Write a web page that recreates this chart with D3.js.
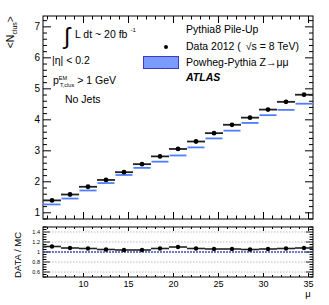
<!DOCTYPE html>
<html>
<head>
<meta charset="utf-8">
<script src="https://cdn.jsdelivr.net/npm/d3@7"></script>
<style>
  body { margin: 0; background: #fff; }
  svg text { font-family: "Liberation Sans", Arial, sans-serif; fill: #000; }
</style>
</head>
<body>
<div id="chart"></div>
<script>
// bin edges in mu (width 2)
const binLow = [5.5, 7.5, 9.5, 11.5, 13.5, 15.5, 17.5, 19.5, 21.5, 23.5, 25.5, 27.5, 29.5, 31.5, 33.5];
const dataVals = [1.40, 1.59, 1.84, 2.06, 2.31, 2.57, 2.82, 3.06, 3.30, 3.57, 3.84, 4.07, 4.33, 4.58, 4.81];
const mcVals = [1.27, 1.46, 1.72, 1.96, 2.22, 2.45, 2.65, 2.85, 3.11, 3.40, 3.65, 3.90, 4.15, 4.32, 4.52];
const ratioVals = [1.11, 1.08, 1.07, 1.05, 1.04, 1.04, 1.07, 1.10, 1.07, 1.06, 1.06, 1.05, 1.06, 1.07, 1.08];
const xTicks = [10, 15, 20, 25, 30, 35];
const yTicks = [1, 2, 3, 4, 5, 6, 7];
const rTicks = [0.6, 0.8, 1, 1.2, 1.4];

const W = 329, H = 305;
const svg = d3.select("#chart").append("svg").attr("width", W).attr("height", H);

const x = d3.scaleLinear().domain([5.5, 35.5]).range([43, 313]);
const y = d3.scaleLinear().domain([0.8, 7.35]).range([219, 16]);
const yr = d3.scaleLinear().domain([0.5, 1.5]).range([277, 227]);

const blue = "#4f7fff";
const fs = 10.5;

// frames
function frame(top, bottom) {
  svg.append("rect").attr("x", 43).attr("y", top).attr("width", 270).attr("height", bottom - top)
    .attr("fill", "none").attr("stroke", "#000").attr("stroke-width", 1);
}
frame(16, 219);
frame(227, 277);

const xMinor = d3.range(6, 36, 1);
const yMinor = d3.range(0.8, 7.35, 0.2).map(v => +v.toFixed(1));
const rMinor = d3.range(0.5, 1.501, 0.05).map(v => +v.toFixed(2));

const tickG = svg.append("g").attr("stroke", "#000").attr("stroke-width", 1);
function tk(x1, y1, x2, y2) { tickG.append("line").attr("x1", x1).attr("y1", y1).attr("x2", x2).attr("y2", y2); }

xMinor.forEach(v => {
  const big = v % 5 === 0;
  const l = big ? 7 : 3.5;
  tk(x(v), 219, x(v), 219 - l);
  tk(x(v), 16, x(v), 16 + l);
  tk(x(v), 277, x(v), 277 - (big ? 4 : 2));
  tk(x(v), 227, x(v), 227 + (big ? 4 : 2));
});
yMinor.forEach(v => {
  const big = Math.abs(v - Math.round(v)) < 1e-6;
  const l = big ? 8 : 4;
  tk(43, y(v), 43 + l, y(v));
  tk(313, y(v), 313 - l, y(v));
});
rMinor.forEach(v => {
  const big = Math.abs(v * 5 - Math.round(v * 5)) < 1e-6;
  const l = big ? 7 : 3.5;
  tk(43, yr(v), 43 + l, yr(v));
  tk(313, yr(v), 313 - l, yr(v));
});

// tick labels
svg.append("g").selectAll("text").data(yTicks).join("text")
  .attr("x", 40).attr("y", d => y(d) + 3.5).attr("text-anchor", "end")
  .attr("font-size", 10).text(d => d);
svg.append("g").selectAll("text").data(xTicks).join("text")
  .attr("x", d => x(d)).attr("y", 287).attr("text-anchor", "middle")
  .attr("font-size", 9).text(d => d);
svg.append("g").selectAll("text").data(rTicks).join("text")
  .attr("x", 40).attr("y", d => yr(d) + 2).attr("text-anchor", "end")
  .attr("font-size", 5.5).text(d => d === 1 ? "1" : d.toFixed(1));

// ratio grid lines
svg.append("g").selectAll("line").data([0.6, 0.8, 1.2, 1.4]).join("line")
  .attr("x1", 43).attr("x2", 313).attr("y1", d => yr(d)).attr("y2", d => yr(d))
  .attr("stroke", "#aaa").attr("stroke-width", 0.8).attr("stroke-dasharray", "1.5,1.5");
svg.append("line").attr("x1", 43).attr("x2", 313).attr("y1", yr(1)).attr("y2", yr(1))
  .attr("stroke", "#3a4fb0").attr("stroke-width", 1.6).attr("stroke-dasharray", "2,1");

// MC lines
svg.append("g").selectAll("line").data(mcVals).join("line")
  .attr("x1", (d, i) => x(binLow[i]) + 0.5).attr("x2", (d, i) => x(binLow[i] + 2) - 0.5)
  .attr("y1", d => y(d)).attr("y2", d => y(d))
  .attr("stroke", blue).attr("stroke-width", 1.8);

// data bars + points
svg.append("g").selectAll("line").data(dataVals).join("line")
  .attr("x1", (d, i) => x(binLow[i])).attr("x2", (d, i) => x(binLow[i] + 2))
  .attr("y1", d => y(d)).attr("y2", d => y(d))
  .attr("stroke", "#222").attr("stroke-width", 1.8);
svg.append("g").selectAll("circle").data(dataVals).join("circle")
  .attr("cx", (d, i) => x(binLow[i] + 1)).attr("cy", d => y(d)).attr("r", 2.4).attr("fill", "#000");

// ratio
svg.append("g").selectAll("line").data(ratioVals).join("line")
  .attr("x1", (d, i) => x(binLow[i])).attr("x2", (d, i) => x(binLow[i] + 2))
  .attr("y1", d => yr(d)).attr("y2", d => yr(d))
  .attr("stroke", "#222").attr("stroke-width", 1.6);
svg.append("g").selectAll("circle").data(ratioVals).join("circle")
  .attr("cx", (d, i) => x(binLow[i] + 1)).attr("cy", d => yr(d)).attr("r", 2.2).attr("fill", "#000");

// axis titles
svg.append("text").attr("transform", "translate(14,16) rotate(-90)").attr("text-anchor", "end")
  .attr("font-size", 10.5).html('&lt;N<tspan font-size="7" dy="2.5">clus</tspan><tspan dy="-2.5">&gt;</tspan>');
svg.append("text").attr("transform", "translate(21,255) rotate(-90)").attr("text-anchor", "middle")
  .attr("font-size", 9.5).text("DATA / MC");
svg.append("text").attr("x", 308).attr("y", 297).attr("text-anchor", "middle").attr("font-size", 9.5).text("μ");

// annotations
svg.append("text").attr("x", 64).attr("y", 44).attr("font-size", 23).text("∫");
svg.append("text").attr("x", 75).attr("y", 38).attr("font-size", fs)
  .html('L dt ~ 20 fb<tspan font-size="6" dy="-6" dx="3">-1</tspan>');
svg.append("text").attr("x", 52).attr("y", 64).attr("font-size", fs).text("|η| < 0.2");
svg.append("text").attr("x", 53).attr("y", 84).attr("font-size", fs)
  .html('p<tspan font-size="5.5" dy="-4.5">EM</tspan><tspan font-size="5.5" dy="7" dx="-7">T,clus</tspan><tspan dy="-2.5" dx="3">&gt; 1 GeV</tspan>');
svg.append("text").attr("x", 65).attr("y", 103).attr("font-size", fs).text("No Jets");

// legend
svg.append("text").attr("x", 186).attr("y", 33).attr("font-size", fs).text("Pythia8 Pile-Up");
svg.append("circle").attr("cx", 166).attr("cy", 47).attr("r", 2).attr("fill", "#000");
svg.append("text").attr("x", 186).attr("y", 50).attr("font-size", fs).html('Data 2012 ( <tspan dx="2">√s = 8 TeV)</tspan>');
const defs = svg.append("defs");
const pat = defs.append("pattern").attr("id", "hatch").attr("width", 3).attr("height", 3)
  .attr("patternUnits", "userSpaceOnUse").attr("patternTransform", "rotate(45)");
pat.append("rect").attr("width", 3).attr("height", 3).attr("fill", "#7e9eff");
pat.append("line").attr("x1", 0).attr("y1", 0).attr("x2", 0).attr("y2", 3).attr("stroke", "#6a8cf5").attr("stroke-width", 1);
svg.append("rect").attr("x", 143.5).attr("y", 56.5).attr("width", 35).attr("height", 12)
  .attr("fill", "url(#hatch)").attr("stroke", "#3a3acc").attr("stroke-width", 1);
svg.append("text").attr("x", 186).attr("y", 66).attr("font-size", fs).text("Powheg-Pythia Z→μμ");
svg.append("text").attr("x", 186).attr("y", 81).attr("font-size", fs).attr("font-weight", "bold")
  .attr("font-style", "italic").text("ATLAS");
</script>
</body>
</html>
